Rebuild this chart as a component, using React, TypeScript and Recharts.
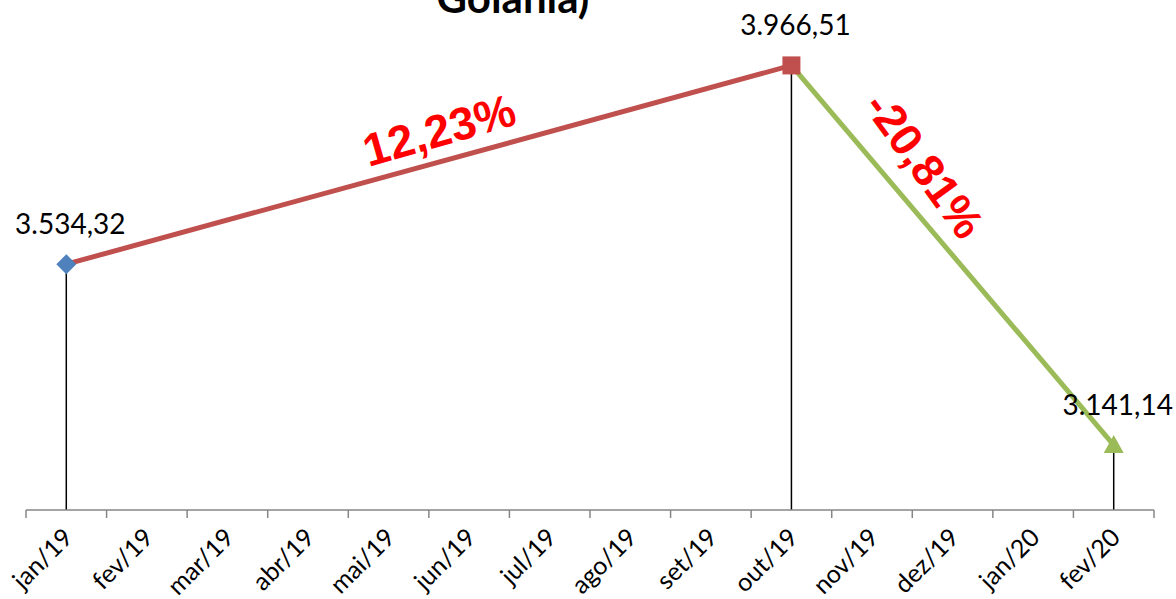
import React from 'react';
import {
  LineChart,
  Line,
  XAxis,
  YAxis,
  LabelList,
  ReferenceLine,
  ReferenceDot,
} from 'recharts';

// categorias do eixo X
const categorias = [
  'jan/19', 'fev/19', 'mar/19', 'abr/19', 'mai/19', 'jun/19', 'jul/19',
  'ago/19', 'set/19', 'out/19', 'nov/19', 'dez/19', 'jan/20', 'fev/20',
];

// séries (null = sem ponto)
const serieInicio = [3534.32, null, null, null, null, null, null, null, null, null, null, null, null, null];
const serieAlta = [3534.32, null, null, null, null, null, null, null, null, 3966.51, null, null, null, null];
const serieQueda = [null, null, null, null, null, null, null, null, null, 3966.51, null, null, null, 3141.14];

// pontos com linha de chamada até o eixo
const marcos = [
  { mes: 'jan/19', valor: 3534.32 },
  { mes: 'out/19', valor: 3966.51 },
  { mes: 'fev/20', valor: 3141.14 },
];

const variacaoAlta = '12,23%';
const variacaoQueda = '-20,81%';

const dados = categorias.map((mes, i) => ({
  mes,
  pos: i + 0.5,
  inicio: serieInicio[i],
  alta: serieAlta[i],
  queda: serieQueda[i],
}));

const limitesMeses = categorias.map((_, i) => i).concat([categorias.length]);

const fonte = 'Lato, "Open Sans", sans-serif';

function formata(v: number) {
  const [int, dec] = v.toFixed(2).split('.');
  return int.replace(/\B(?=(\d{3})+(?!\d))/g, '.') + ',' + dec;
}

const rotulo = (indice: number) => (props: any) => {
  const { x, y, value, index } = props;
  if (value == null || index !== indice) return null;
  return (
    <text x={x + 4} y={y - 30} textAnchor="middle" fontFamily={fonte} fontSize={28} fill="#000">
      {formata(value)}
    </text>
  );
};

const Losango = (props: any) => {
  const { cx, cy, value, index } = props;
  if (value == null || cy == null) return <g key={index} />;
  return <path key={index} d={`M${cx},${cy - 10}L${cx + 10},${cy}L${cx},${cy + 10}L${cx - 10},${cy}Z`} fill="#4F81BD" />;
};

const Quadrado = (props: any) => {
  const { cx, cy, value, index } = props;
  if (value == null || cy == null || index !== 9) return <g key={index} />;
  return <rect key={index} x={cx - 9} y={cy - 9} width={18} height={18} fill="#C0504D" />;
};

const Triangulo = (props: any) => {
  const { cx, cy, value, index } = props;
  if (value == null || cy == null || index !== 13) return <g key={index} />;
  return <path key={index} d={`M${cx},${cy - 10}L${cx + 10},${cy + 8}L${cx - 10},${cy + 8}Z`} fill="#9BBB59" />;
};

const TickMes = (props: any) => {
  const { x, y, payload } = props;
  return (
    <text
      x={x + 8}
      y={y + 20}
      textAnchor="end"
      transform={`rotate(-45, ${x + 8}, ${y + 20})`}
      fontFamily={fonte}
      fontSize={25}
      fill="#000"
    >
      {payload.value}
    </text>
  );
};

const SemTexto = () => <g />;

export default function App() {
  return (
    <div style={{ position: 'absolute', left: 0, top: 0, width: 1176, height: 599, background: '#fff' }}>
      <LineChart
        width={1176}
        height={599}
        data={dados}
        margin={{ top: 50, right: 22, left: 26, bottom: 0 }}
      >
        <XAxis
          xAxisId="borda"
          dataKey="pos"
          type="number"
          domain={[0, categorias.length]}
          ticks={limitesMeses}
          interval={0}
          allowDataOverflow
          height={1}
          tick={<SemTexto />}
          tickSize={8}
          axisLine={{ stroke: '#868686', strokeWidth: 1.5 }}
          tickLine={{ stroke: '#868686', strokeWidth: 1.5 }}
        />
        <XAxis
          xAxisId="cat"
          dataKey="mes"
          scale="band"
          interval={0}
          height={88}
          axisLine={false}
          tickLine={false}
          tick={<TickMes />}
        />
        <YAxis hide domain={[3000, 4000]} allowDataOverflow />
        {marcos.map((m) => (
          <ReferenceLine
            key={m.mes}
            xAxisId="cat"
            segment={[{ x: m.mes, y: 3000 }, { x: m.mes, y: m.valor }]}
            stroke="#000"
            strokeWidth={1.5}
          />
        ))}
        <Line
          xAxisId="borda"
          dataKey="inicio"
          stroke="none"
          dot={false}
          activeDot={false}
          legendType="none"
          isAnimationActive={false}
        />
        <Line
          xAxisId="cat"
          dataKey="queda"
          stroke="#9BBB59"
          strokeWidth={5}
          connectNulls
          dot={Triangulo}
          activeDot={false}
          isAnimationActive={false}
        >
          <LabelList dataKey="queda" content={rotulo(13)} />
        </Line>
        <Line
          xAxisId="cat"
          dataKey="alta"
          stroke="#C0504D"
          strokeWidth={5}
          connectNulls
          dot={Quadrado}
          activeDot={false}
          isAnimationActive={false}
        >
          <LabelList dataKey="alta" content={rotulo(9)} />
        </Line>
        <Line
          xAxisId="cat"
          dataKey="inicio"
          stroke="none"
          dot={Losango}
          activeDot={false}
          isAnimationActive={false}
        >
          <LabelList dataKey="inicio" content={rotulo(0)} />
        </Line>
        <ReferenceDot
          xAxisId="cat"
          x="jun/19"
          y={3826}
          shape={(p: any) => (
            <text
              x={p.cx - 30}
              y={p.cy}
              dy="0.35em"
              textAnchor="middle"
              transform={`rotate(-16, ${p.cx - 30}, ${p.cy})`}
              fontFamily='"Liberation Sans", Arial, sans-serif'
              fontWeight="bold"
              fontSize={46}
              fill="#FF0000"
            >
              {variacaoAlta}
            </text>
          )}
        />
        <ReferenceDot
          xAxisId="cat"
          x="dez/19"
          y={3750}
          shape={(p: any) => (
            <text
              x={p.cx - 28}
              y={p.cy}
              dy="0.35em"
              textAnchor="middle"
              transform={`rotate(54, ${p.cx - 28}, ${p.cy})`}
              fontFamily='"Liberation Sans", Arial, sans-serif'
              fontWeight="bold"
              fontSize={45}
              fill="#FF0000"
            >
              {variacaoQueda}
            </text>
          )}
        />
      </LineChart>
      <svg
        width={1176}
        height={599}
        style={{ position: 'absolute', left: 0, top: 0, pointerEvents: 'none' }}
      >
        <text x={513} y={13} textAnchor="middle" fontFamily={fonte} fontWeight="bold" fontSize={42} fill="#000">
          Goiânia)
        </text>
      </svg>
    </div>
  );
}
